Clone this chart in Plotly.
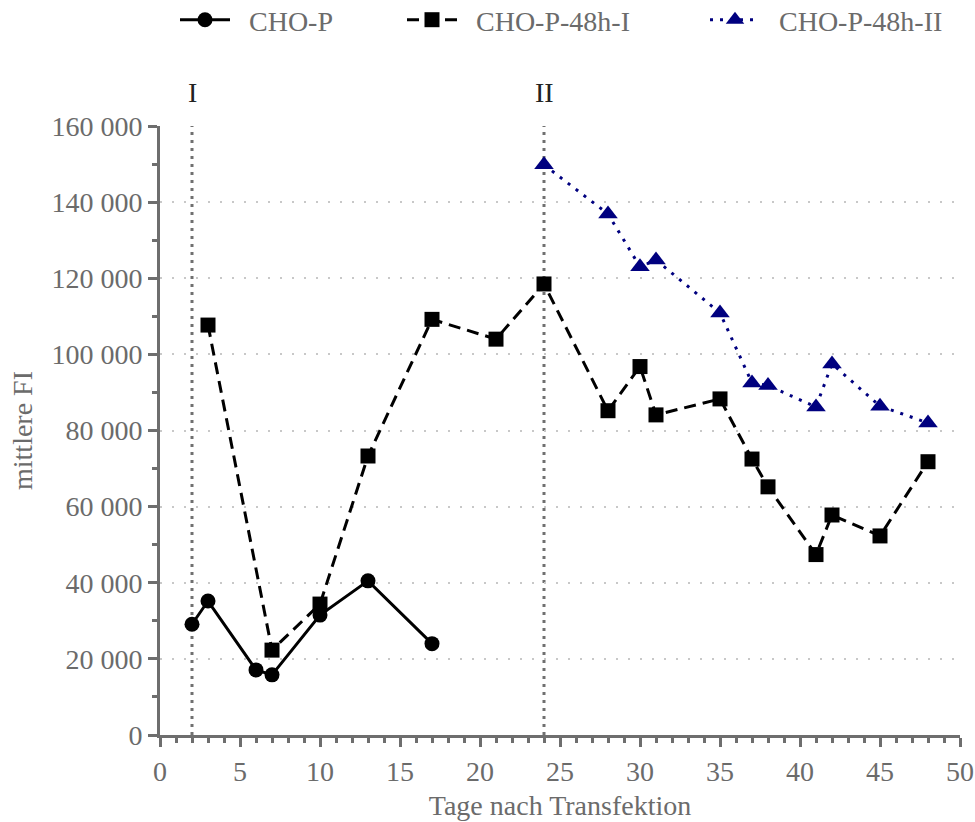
import plotly.graph_objects as go

# Data
days_p = [2, 3, 6, 7, 10, 13, 17]
fi_p = [29100, 35200, 17100, 15800, 31500, 40500, 24000]

days_i = [3, 7, 10, 13, 17, 21, 24, 28, 30, 31, 35, 37, 38, 41, 42, 45, 48]
fi_i = [107700, 22300, 34400, 73300, 109200, 104000, 118500, 85200, 96800, 84100,
        88300, 72500, 65200, 47400, 57800, 52300, 71800]

days_ii = [24, 28, 30, 31, 35, 37, 38, 41, 42, 45, 48]
fi_ii = [149800, 136900, 123000, 124800, 110900, 92500, 91800, 86200, 97500, 86400, 82000]

names = ["CHO-P", "CHO-P-48h-I", "CHO-P-48h-II"]
marker_lines = [2, 24]
marker_labels = ["I", "II"]

FONT = "Liberation Serif"
FS = 28
GRAY = "#6b6b6b"
AX = "#6e6e6e"
NB = "\u00a0\u00a0"

fig = go.Figure()
fig.add_trace(go.Scatter(x=days_p, y=fi_p, name=NB + names[0], mode="lines+markers",
                         line=dict(color="black", width=3),
                         marker=dict(symbol="circle", size=15, color="black"),
                         legend="legend"))
fig.add_trace(go.Scatter(x=days_i, y=fi_i, name=NB + names[1], mode="lines+markers",
                         line=dict(color="black", width=3, dash="12px,7px"),
                         marker=dict(symbol="square", size=15, color="black"),
                         legend="legend2"))
fig.add_trace(go.Scatter(x=days_ii, y=fi_ii, name=NB + names[2], mode="lines+markers",
                         line=dict(color="#00007f", width=3, dash="3px,7px"),
                         marker=dict(symbol="triangle-up", size=17, color="#00007f"),
                         legend="legend3"))

for xv, lab in zip(marker_lines, marker_labels):
    fig.add_shape(type="line", x0=xv, x1=xv, y0=0, y1=160000, xref="x", yref="y",
                  line=dict(color="#707070", width=3, dash="3px,5px"), layer="below")
    fig.add_annotation(x=xv, y=1.055, xref="x", yref="paper", text=lab, showarrow=False,
                       font=dict(family=FONT, size=FS, color="#222222"), yanchor="middle")

leg_common = dict(orientation="h", yanchor="middle", y=1 - 20 / 822, xanchor="left",
                  xref="container", yref="container",
                  font=dict(family=FONT, size=FS, color=GRAY), itemwidth=50,
                  bgcolor="rgba(0,0,0,0)")
fig.update_layout(
    legend=dict(x=175 / 975, **leg_common),
    legend2=dict(x=402 / 975, **leg_common),
    legend3=dict(x=705 / 975, **leg_common),
)

fig.update_xaxes(range=[0, 50], dtick=5, tick0=0, showgrid=False, zeroline=False,
                 showline=True, linecolor=AX, linewidth=3, automargin=False,
                 ticks="outside", ticklen=9, tickwidth=3, tickcolor=AX,
                 minor=dict(ticks="outside", ticklen=5, tickwidth=3, tickcolor=AX, dtick=1, showgrid=False),
                 tickfont=dict(family=FONT, size=FS, color=GRAY),
                 title=dict(text="Tage nach Transfektion", font=dict(family=FONT, size=FS, color=GRAY), standoff=10))
fig.update_yaxes(range=[0, 160000], dtick=20000, tick0=0, showgrid=True,
                 gridcolor="#c8c8c8", gridwidth=2, griddash="2px,10px", zeroline=False,
                 showline=True, linecolor=AX, linewidth=3, automargin=False,
                 ticks="outside", ticklen=9, tickwidth=3, tickcolor=AX,
                 minor=dict(ticks="outside", ticklen=5, tickwidth=3, tickcolor=AX, dtick=10000, showgrid=False),
                 tickformat=",d",
                 tickfont=dict(family=FONT, size=FS, color=GRAY),
                 title=dict(text="mittlere FI", font=dict(family=FONT, size=FS, color=GRAY), standoff=11))

fig.update_layout(width=975, height=822, autosize=False,
                  margin=dict(l=160, r=15, t=126, b=87),
                  paper_bgcolor="white", plot_bgcolor="white",
                  separators=", ", showlegend=True,
                  font=dict(family=FONT, color=GRAY))

fig.write_html("out.html")
